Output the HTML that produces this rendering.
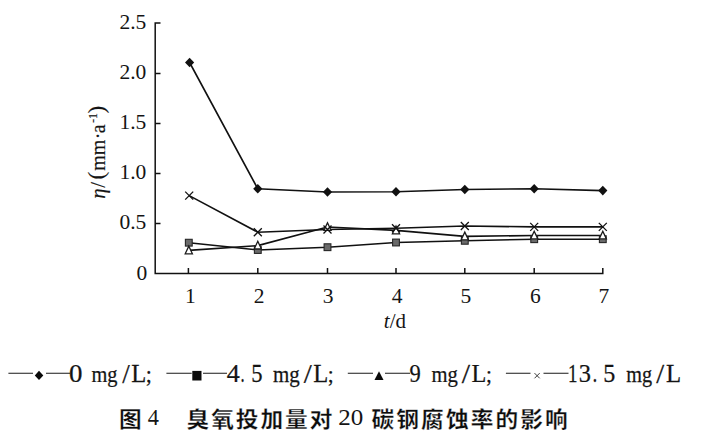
<!DOCTYPE html>
<html><head><meta charset="utf-8">
<style>
html,body{margin:0;padding:0;background:#fff;}
body{width:711px;height:438px;overflow:hidden;position:relative;}
svg{position:absolute;left:0;top:0;}
text{font-family:"Liberation Serif","Noto Serif CJK SC",serif;font-size:20px;fill:#141414;}
.lg{stroke:#141414;stroke-width:0.25px;}
g text{font-size:inherit;}
.cap{font-family:"Liberation Sans","Noto Sans CJK SC",sans-serif;font-weight:bold;font-size:21.8px;fill:#0c0c0c;stroke:#fff;stroke-width:0.25px;}
</style></head><body>
<svg width="711" height="438" viewBox="0 0 711 438">
<!-- axes -->
<g stroke="#111" stroke-width="1.5" fill="none">
<path d="M160.5 23.1H155.2V273.5H602.8V268"/>
<path d="M155 73.5h5.5M155 123.5h5.5M155 173.5h5.5M155 223.5h5.5"/>
<path d="M188.4 273.5v-5.5M257.8 273.5v-5.5M327.5 273.5v-5.5M396 273.5v-5.5M464.8 273.5v-5.5M534.2 273.5v-5.5"/>
</g>
<!-- y axis tick labels -->
<g text-anchor="end" style="font-size:21.5px">
<text x="146.3" y="28.6">2.5</text>
<text x="146.3" y="79.0">2.0</text>
<text x="146.3" y="129.0">1.5</text>
<text x="146.3" y="179.0">1.0</text>
<text x="146.3" y="229.0">0.5</text>
<text x="147.2" y="280.3">0</text>
</g>
<!-- x axis tick labels -->
<g text-anchor="middle" style="font-size:21.5px">
<text x="190.3" y="303">1</text>
<text x="259.1" y="303">2</text>
<text x="328.2" y="303">3</text>
<text x="397.1" y="303">4</text>
<text x="465.8" y="303">5</text>
<text x="535.3" y="303">6</text>
<text x="603.8" y="303">7</text>
</g>
<text transform="translate(383.8,327.8) scale(1.05,1)"><tspan font-style="italic">t</tspan>/d</text>
<text transform="translate(104.6,198.8) rotate(-90)" stroke="#141414" stroke-width="0.15"><tspan x="0" font-style="italic" style="font-size:21px">η</tspan><tspan x="11" style="font-size:21px">/</tspan><tspan x="19.2" dy="-0.5" style="font-size:23px">(</tspan><tspan x="28.1" dy="0.5">mm</tspan><tspan x="59.5">·</tspan><tspan x="65.6">a</tspan><tspan x="75.8" dy="-7.5" style="font-size:12px">-1</tspan><tspan x="85.3" dy="7.0" style="font-size:23px">)</tspan></text>
<!-- series lines -->
<g stroke="#111" stroke-width="1.6" fill="none">
<polyline points="189.6,62.5 257.8,188.8 327.5,192 396,191.8 464.8,189.5 534.2,188.8 602.8,190.6"/>
<polyline points="189.2,195.6 257.8,232.2 327.5,229.5 396,228.2 464.8,226 534.2,226.9 602.8,226.9"/>
<polyline points="188.8,250.4 257.8,245.6 327.5,227 396,230.4 464.8,236.4 534.2,235.5 602.8,235.5"/>
<polyline points="188.8,242.7 257.8,250 327.5,247.2 396,242.5 464.8,240.8 534.2,239.2 602.8,239.2"/>
</g>
<g>
<rect transform="translate(188.8,242.7)" x="-3.4" y="-3.4" width="6.8" height="6.8" fill="#6a6a6a" stroke="#262626" stroke-width="1.1"/>
<rect transform="translate(257.8,250)" x="-3.4" y="-3.4" width="6.8" height="6.8" fill="#6a6a6a" stroke="#262626" stroke-width="1.1"/>
<rect transform="translate(327.5,247.2)" x="-3.4" y="-3.4" width="6.8" height="6.8" fill="#6a6a6a" stroke="#262626" stroke-width="1.1"/>
<rect transform="translate(396,242.5)" x="-3.4" y="-3.4" width="6.8" height="6.8" fill="#6a6a6a" stroke="#262626" stroke-width="1.1"/>
<rect transform="translate(464.8,240.8)" x="-3.4" y="-3.4" width="6.8" height="6.8" fill="#6a6a6a" stroke="#262626" stroke-width="1.1"/>
<rect transform="translate(534.2,239.2)" x="-3.4" y="-3.4" width="6.8" height="6.8" fill="#6a6a6a" stroke="#262626" stroke-width="1.1"/>
<rect transform="translate(602.8,239.2)" x="-3.4" y="-3.4" width="6.8" height="6.8" fill="#6a6a6a" stroke="#262626" stroke-width="1.1"/>
<path transform="translate(188.8,250.4)" d="M0-4.3L3.6 3.4H-3.6Z" stroke="#1c1c1c" stroke-width="1.3" fill="#fff"/>
<path transform="translate(257.8,245.6)" d="M0-4.3L3.6 3.4H-3.6Z" stroke="#1c1c1c" stroke-width="1.3" fill="#fff"/>
<path transform="translate(327.5,227)" d="M0-4.3L3.6 3.4H-3.6Z" stroke="#1c1c1c" stroke-width="1.3" fill="#fff"/>
<path transform="translate(396,230.4)" d="M0-4.3L3.6 3.4H-3.6Z" stroke="#1c1c1c" stroke-width="1.3" fill="#fff"/>
<path transform="translate(464.8,236.4)" d="M0-4.3L3.6 3.4H-3.6Z" stroke="#1c1c1c" stroke-width="1.3" fill="#fff"/>
<path transform="translate(534.2,235.5)" d="M0-4.3L3.6 3.4H-3.6Z" stroke="#1c1c1c" stroke-width="1.3" fill="#fff"/>
<path transform="translate(602.8,235.5)" d="M0-4.3L3.6 3.4H-3.6Z" stroke="#1c1c1c" stroke-width="1.3" fill="#fff"/>
<path transform="translate(189.2,195.6)" d="M-4-4L4 4M-4 4L4-4" stroke="#111" stroke-width="1.3" fill="none"/>
<path transform="translate(257.8,232.2)" d="M-4-4L4 4M-4 4L4-4" stroke="#111" stroke-width="1.3" fill="none"/>
<path transform="translate(327.5,229.5)" d="M-4-4L4 4M-4 4L4-4" stroke="#111" stroke-width="1.3" fill="none"/>
<path transform="translate(396,228.2)" d="M-4-4L4 4M-4 4L4-4" stroke="#111" stroke-width="1.3" fill="none"/>
<path transform="translate(464.8,226)" d="M-4-4L4 4M-4 4L4-4" stroke="#111" stroke-width="1.3" fill="none"/>
<path transform="translate(534.2,226.9)" d="M-4-4L4 4M-4 4L4-4" stroke="#111" stroke-width="1.3" fill="none"/>
<path transform="translate(602.8,226.9)" d="M-4-4L4 4M-4 4L4-4" stroke="#111" stroke-width="1.3" fill="none"/>
<path transform="translate(189.6,62.5)" d="M0-4.8L4.6 0L0 4.8L-4.6 0Z" fill="#111"/>
<path transform="translate(257.8,188.8)" d="M0-4.8L4.6 0L0 4.8L-4.6 0Z" fill="#111"/>
<path transform="translate(327.5,192)" d="M0-4.8L4.6 0L0 4.8L-4.6 0Z" fill="#111"/>
<path transform="translate(396,191.8)" d="M0-4.8L4.6 0L0 4.8L-4.6 0Z" fill="#111"/>
<path transform="translate(464.8,189.5)" d="M0-4.8L4.6 0L0 4.8L-4.6 0Z" fill="#111"/>
<path transform="translate(534.2,188.8)" d="M0-4.8L4.6 0L0 4.8L-4.6 0Z" fill="#111"/>
<path transform="translate(602.8,190.6)" d="M0-4.8L4.6 0L0 4.8L-4.6 0Z" fill="#111"/>
</g>
<!-- legend -->
<g stroke="#1a1a1a" stroke-width="1.05" fill="none">
<path d="M8.4 373.3H33M46 373.3H70M166.4 373.3H191.7M203 373.3H227M347.8 373.3H373M385 373.3H410M505.9 373.3H530.5M543.5 373.3H568.5"/>
</g>
<path d="M39 370.7L43.3 375.4L39 380.1L34.8 375.4Z" fill="#0a0a0a"/>
<rect x="192.3" y="370.9" width="9.2" height="9.6" fill="#0a0a0a"/>
<path d="M379 371.2L383.5 379.9H374.5Z" fill="#0a0a0a"/>
<path d="M534.5 373.1L539.7 378.3M534.5 378.3L539.7 373.1" stroke="#3c3c3c" stroke-width="1"/>
<text transform="translate(69.00,381.80) scale(1.035,1)" style="font-size:26px" class="lg">0</text>
<text transform="translate(91.47,381.80) scale(0.906,1)" style="font-size:22.5px" class="lg">mg</text>
<text transform="translate(122.17,383.00) scale(1.000,1)" style="font-size:27px" class="lg">/</text>
<text transform="translate(131.27,381.80) scale(0.945,1)" style="font-size:26px" class="lg">L</text>
<text transform="translate(145.85,381.80) scale(0.975,1)" style="font-size:22.5px" class="lg">;</text>
<text transform="translate(226.84,381.80) scale(1.001,1)" style="font-size:26px" class="lg">4</text>
<text transform="translate(240.38,381.80) scale(0.638,1)" style="font-size:26px" class="lg">.</text>
<text transform="translate(251.23,381.80) scale(0.868,1)" style="font-size:26px" class="lg">5</text>
<text transform="translate(273.03,381.80) scale(0.931,1)" style="font-size:22.5px" class="lg">mg</text>
<text transform="translate(303.74,383.00) scale(1.075,1)" style="font-size:27px" class="lg">/</text>
<text transform="translate(313.27,381.80) scale(0.945,1)" style="font-size:26px" class="lg">L</text>
<text transform="translate(327.74,381.80) scale(0.951,1)" style="font-size:22.5px" class="lg">;</text>
<text transform="translate(409.51,381.80) scale(0.867,1)" style="font-size:26px" class="lg">9</text>
<text transform="translate(431.54,381.80) scale(0.917,1)" style="font-size:22.5px" class="lg">mg</text>
<text transform="translate(461.71,383.00) scale(1.103,1)" style="font-size:27px" class="lg">/</text>
<text transform="translate(471.52,381.80) scale(0.934,1)" style="font-size:26px" class="lg">L</text>
<text transform="translate(486.07,381.80) scale(0.946,1)" style="font-size:22.5px" class="lg">;</text>
<text transform="translate(568.00,381.80) scale(0.728,1)" style="font-size:26px" class="lg">1</text>
<text transform="translate(578.64,381.80) scale(0.940,1)" style="font-size:26px" class="lg">3</text>
<text transform="translate(592.38,381.80) scale(0.739,1)" style="font-size:26px" class="lg">.</text>
<text transform="translate(603.13,381.80) scale(0.928,1)" style="font-size:26px" class="lg">5</text>
<text transform="translate(626.25,381.80) scale(0.899,1)" style="font-size:22.5px" class="lg">mg</text>
<text transform="translate(656.23,383.00) scale(1.058,1)" style="font-size:27px" class="lg">/</text>
<text transform="translate(666.06,381.80) scale(0.954,1)" style="font-size:26px" class="lg">L</text>
<text transform="translate(147.71,424.80) scale(0.930,1)" style="font-size:24px">4</text>
<text transform="translate(338.27,424.80) scale(1.043,1)" style="font-size:24px">20</text>
<!-- caption -->
<text class="cap" transform="translate(119.0,427.4) scale(1.04,1)">图</text>
<text class="cap" transform="translate(186.5,427.4) scale(1.04,1)" letter-spacing="1.9">臭氧投加量对</text>
<text class="cap" transform="translate(371.5,427.4) scale(1.04,1)" letter-spacing="2.05">碳钢腐蚀率的影响</text>
</svg>
</body></html>
